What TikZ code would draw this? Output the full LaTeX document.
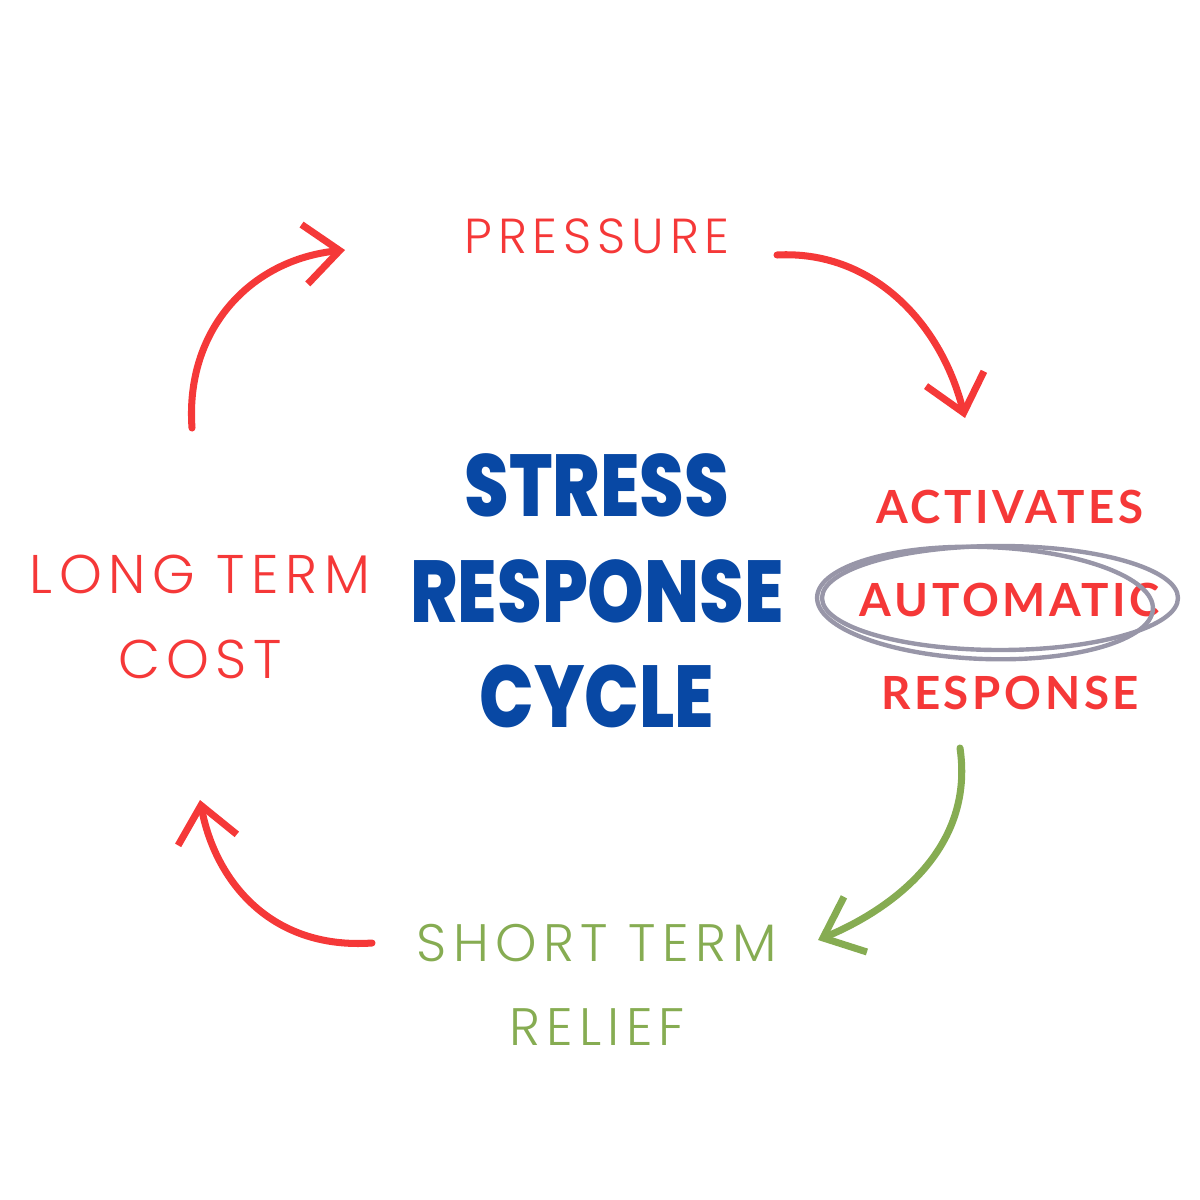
\documentclass[tikz,border=0pt]{standalone}
\usepackage{fontspec}
\usepackage{graphicx}
\setmainfont{Poppins}
\newfontfamily\lt[LetterSpace=12]{Poppins Light}
\newfontfamily\lb[LetterSpace=8]{Lato Bold}
\newfontfamily\bigf{Poppins ExtraBold}
\usetikzlibrary{arrows.meta}
\definecolor{rd}{HTML}{F53838}
\definecolor{gr}{HTML}{86AC52}
\definecolor{bl}{HTML}{0848A4}
\definecolor{gy}{HTML}{9896A8}
\begin{document}
\begin{tikzpicture}[x=0.02cm,y=-0.02cm,
  arr/.style={line width=4pt,line cap=round,-{Straight Barb[length=20pt,width=34pt,line width=4pt]}},
  lab/.style={align=center,inner sep=0pt}]
\useasboundingbox (0,0) rectangle (1200,1200);
\node[lab,text=rd,font=\lt\fontsize{28}{34}\selectfont] (p) at (597,236) {PRESSURE};
\node[lab,text=rd,font=\lt\fontsize{31}{48}\selectfont] (l) at (200,617) {LONG TERM\\COST};
\node[lab,text=rd,font=\lb\fontsize{26}{53}\selectfont] (a) at (1010,600) {ACTIVATES\\AUTOMATIC\\RESPONSE};
\node[lab,text=gr,font=\lt\fontsize{30}{48}\selectfont] (s) at (597,985) {SHORT TERM\\RELIEF};
\node[lab,text=bl,font=\bigf\fontsize{50}{60}\selectfont] (c) at (597,601) {\scalebox{0.82}[1]{\begin{tabular}{@{}c@{}}STRESS\\RESPONSE\\CYCLE\end{tabular}}};
\draw[gy,line width=2.5pt] (1000,598) ellipse [x radius=178,y radius=52];
\draw[gy,line width=2.5pt,rotate around={-2:(985,603)}] (985,603) ellipse [x radius=168,y radius=56];
\coordinate (a1s) at (192,428); \coordinate (a1e) at (345,250);
\coordinate (a2s) at (777,255); \coordinate (a2e) at (965,418);
\coordinate (a3s) at (960,748); \coordinate (a3e) at (818,940);
\coordinate (a4s) at (372,943); \coordinate (a4e) at (200,800);
\draw[arr,rd] (a1s) .. controls (185,330) and (250,260) .. (a1e);
\draw[arr,rd] (a2s) .. controls (870,250) and (940,320) .. (a2e);
\draw[arr,gr] (a3s) .. controls (975,850) and (890,910) .. (a3e);
\draw[arr,rd] (a4s) .. controls (270,950) and (215,880) .. (a4e);
\end{tikzpicture}
\end{document}
